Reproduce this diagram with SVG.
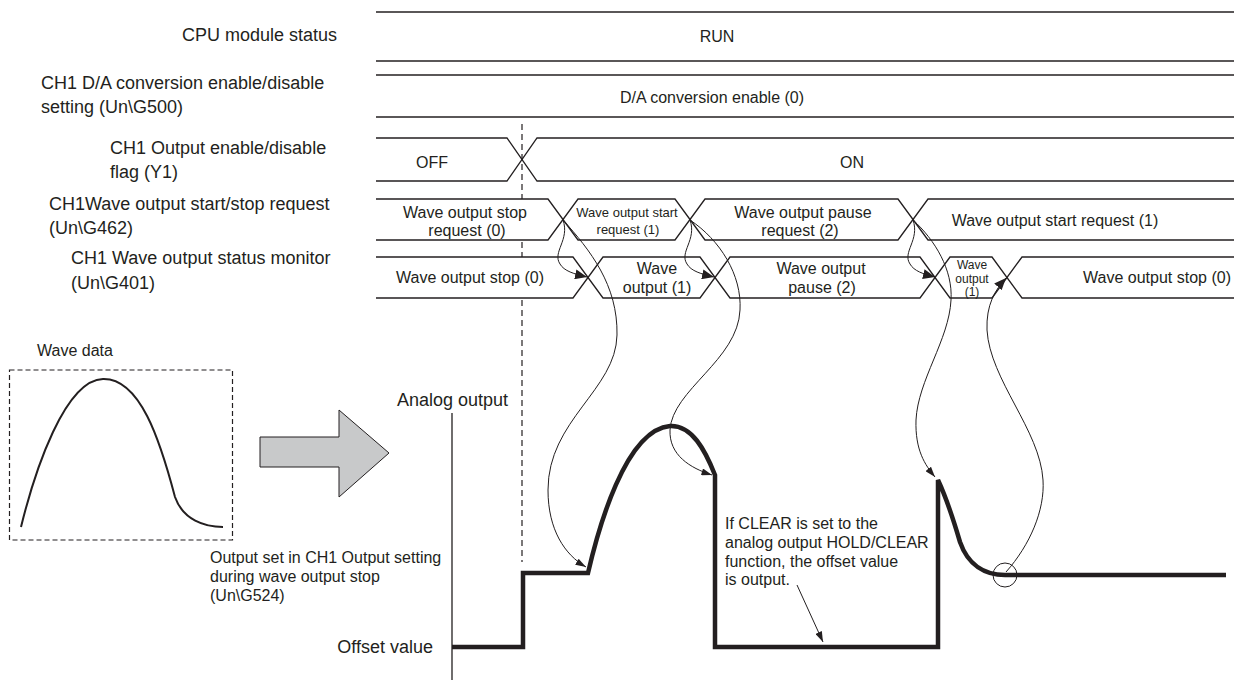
<svg xmlns="http://www.w3.org/2000/svg" width="1243" height="680" viewBox="0 0 1243 680">
<style>
text{font-family:"Liberation Sans",Arial,sans-serif;fill:#231f20}
.lb{font-size:18px}
.rt{font-size:16px}
.sm{font-size:13px}
.xs{font-size:12px}
.ln{fill:none;stroke:#231f20;stroke-width:1.3}
.th{fill:none;stroke:#231f20;stroke-width:1}
.wv{fill:none;stroke:#231f20;stroke-width:4.5;stroke-linejoin:miter}
.dash{stroke:#231f20;stroke-width:1.2;stroke-dasharray:6,4}
.mid{text-anchor:middle}
.end{text-anchor:end}
</style>
<defs>
<marker id="ah" viewBox="0 0 12 10" refX="12" refY="5" markerWidth="12" markerHeight="10" markerUnits="userSpaceOnUse" orient="auto"><path d="M0,0 L12,5 L0,10 z" fill="#231f20"/></marker>
<marker id="ahs" viewBox="0 0 12 8" refX="12" refY="4" markerWidth="11" markerHeight="7" markerUnits="userSpaceOnUse" orient="auto"><path d="M0,0 L12,4 L0,8 z" fill="#231f20"/></marker>
</defs>
<rect width="1243" height="680" fill="#fff"/>

<g id="labels">
<text class="lb end" x="337" y="41">CPU module status</text>
<text class="lb" x="41" y="89">CH1 D/A conversion enable/disable</text>
<text class="lb" x="41" y="113">setting (Un\G500)</text>
<text class="lb" x="110" y="154">CH1 Output enable/disable</text>
<text class="lb" x="110" y="178">flag (Y1)</text>
<text class="lb" x="49" y="210">CH1Wave output start/stop request</text>
<text class="lb" x="49" y="234">(Un\G462)</text>
<text class="lb" x="71" y="264">CH1 Wave output status monitor</text>
<text class="lb" x="71" y="289">(Un\G401)</text>
</g>

<g id="timing-marker">
<line class="dash" x1="522" y1="124" x2="522" y2="199"/>
<line class="dash" x1="522" y1="242" x2="522" y2="257"/>
<line class="dash" x1="522" y1="300" x2="522" y2="562"/>
</g>

<g id="row-cpu">
<line class="ln" x1="376" y1="12" x2="1234" y2="12"/>
<line class="ln" x1="376" y1="61" x2="1234" y2="61"/>
<text class="rt mid" x="717" y="42">RUN</text>
</g>

<g id="row-da">
<line class="ln" x1="376" y1="75" x2="1234" y2="75"/>
<line class="ln" x1="376" y1="117" x2="1234" y2="117"/>
<text class="rt mid" x="712" y="103">D/A conversion enable (0)</text>
</g>

<g id="row-y1">
<polyline class="ln" points="376,138 507,138 537,181 1234,181"/>
<polyline class="ln" points="376,181 507,181 537,138 1234,138"/>
<text class="rt mid" x="432" y="168">OFF</text>
<text class="rt mid" x="852" y="168">ON</text>
</g>

<g id="row-g462">
<polyline class="ln" points="376,199 548,199 578,240 675,240 705,199 898,199 928,240 1234,240"/>
<polyline class="ln" points="376,240 548,240 578,199 675,199 705,240 898,240 928,199 1234,199"/>
<text class="rt mid" x="465" y="218">Wave output stop</text>
<text class="rt mid" x="467" y="236">request (0)</text>
<text class="sm mid" x="627" y="217">Wave output start</text>
<text class="sm mid" x="628" y="234">request (1)</text>
<text class="rt mid" x="803" y="218">Wave output pause</text>
<text class="rt mid" x="800" y="236">request (2)</text>
<text class="rt mid" x="1055" y="226">Wave output start request (1)</text>
</g>

<g id="row-g401">
<polyline class="ln" points="376,257 573,257 603,298 700,298 730,257 920,257 950,298 992,298 1022,257 1234,257"/>
<polyline class="ln" points="376,298 573,298 603,257 700,257 730,298 920,298 950,257 992,257 1022,298 1234,298"/>
<text class="rt mid" x="470" y="283">Wave output stop (0)</text>
<text class="rt mid" x="657" y="274">Wave</text>
<text class="rt mid" x="657" y="293">output (1)</text>
<text class="rt mid" x="821" y="274">Wave output</text>
<text class="rt mid" x="822" y="293">pause (2)</text>
<text class="xs mid" x="972" y="269">Wave</text>
<text class="xs mid" x="972" y="283">output</text>
<text class="xs mid" x="972" y="296">(1)</text>
<text class="rt mid" x="1157" y="283">Wave output stop (0)</text>
</g>

<g id="wave-data">
<text class="rt mid" x="75" y="356">Wave data</text>
<rect x="9.5" y="370" width="223" height="170" fill="none" stroke="#231f20" stroke-width="1.2" stroke-dasharray="5,3"/>
<path d="M21,527 C35,470 65,380 103,379 C140,378 160,440 175,497 C183,520 205,527 223,527" fill="none" stroke="#231f20" stroke-width="2"/>
</g>

<g id="big-arrow">
<polygon points="260,437 339,437 339,410 389,453 339,497 339,467 260,467" fill="#c8c9ca" stroke="#231f20" stroke-width="1"/>
</g>

<g id="analog-chart">
<text class="lb" x="397" y="406">Analog output</text>
<text class="lb end" x="433" y="653">Offset value</text>
<line class="ln" x1="452" y1="413" x2="452" y2="680"/>
<path class="wv" d="M452,647 L523,647 L523,573 L588,573 C598,530 625,430 670,426 C692,425 705,450 715,475 L715,647 L938,647 L938,480 C945,495 955,525 960,542 C968,565 985,575 1005,575 L1226,575"/>
<circle cx="1005" cy="575" r="12" class="th"/>
</g>

<g id="notes">
<text class="rt" x="210" y="563">Output set in CH1 Output setting</text>
<text class="rt" x="210" y="582">during wave output stop</text>
<text class="rt" x="210" y="601">(Un\G524)</text>
<text class="rt" x="725" y="529">If CLEAR is set to the</text>
<text class="rt" x="725" y="548">analog output HOLD/CLEAR</text>
<text class="rt" x="725" y="567">function, the offset value</text>
<text class="rt" x="725" y="585">is output.</text>
</g>

<g id="connectors">
<path class="th" d="M563,220 C570,240 552,252 560,264 C564,271 574,274 587,277" marker-end="url(#ah)"/>
<path class="th" d="M690,220 C697,240 679,252 687,264 C691,271 701,274 714,277" marker-end="url(#ah)"/>
<path class="th" d="M913,220 C920,240 902,252 910,264 C914,271 923,274 935,277" marker-end="url(#ah)"/>
<path class="th" d="M563,220 C590,250 618,285 617,335 C616,390 548,420 548,490 C548,530 565,555 586,567" marker-end="url(#ahs)"/>
<path class="th" d="M690,220 C720,240 742,275 740,310 C738,360 672,390 670,430 C669,455 690,468 712,475" marker-end="url(#ahs)"/>
<path class="th" d="M913,220 C935,240 953,270 951,300 C949,340 918,380 916,420 C915,450 925,465 935,477" marker-end="url(#ahs)"/>
<path class="th" d="M1006,572 C1030,545 1045,510 1043,480 C1040,430 990,380 987,330 C986,305 995,290 1006,278" marker-end="url(#ah)"/>
<line class="th" x1="797" y1="585" x2="823" y2="642" marker-end="url(#ahs)"/>
</g>
</svg>
